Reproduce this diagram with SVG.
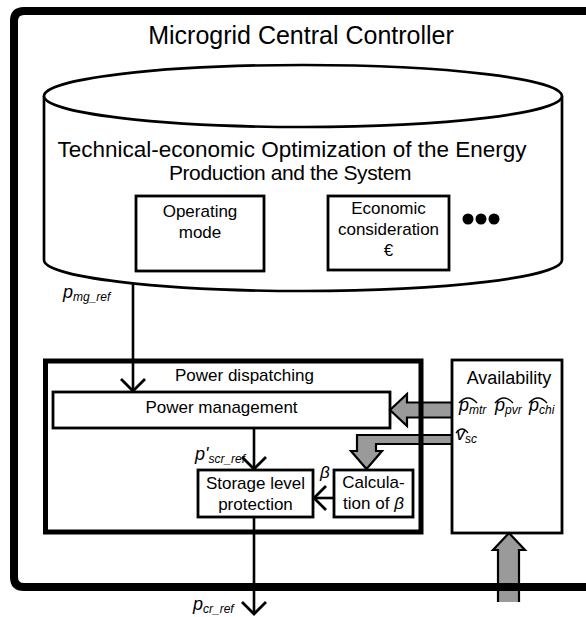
<svg xmlns="http://www.w3.org/2000/svg" width="586" height="617" viewBox="0 0 586 617">
<style>
.t{font-family:"Liberation Sans",Arial,sans-serif;fill:#000}
.i{font-style:italic}
.box{fill:#fff;stroke:#000;stroke-width:2.8}
.frame{fill:none;stroke:#000}
.ln{fill:none;stroke:#000;stroke-width:2.6}
.gf{fill:#9a9a9a;stroke:none}
.go{fill:none;stroke:#000;stroke-width:2.2;stroke-linejoin:miter}
.hat{fill:none;stroke:#000;stroke-width:1.3}
</style>
<defs>
<marker id="v" viewBox="0 0 15 28" refX="13" refY="14" markerWidth="15" markerHeight="28" orient="auto" markerUnits="userSpaceOnUse">
<path d="M1,2 L13,14 L1,26" fill="none" stroke="#000" stroke-width="2.8"/>
</marker>
</defs>
<rect width="586" height="617" fill="#fff"/>

<g id="optimization">
<path d="M44,96 V260 A259,31 0 0 0 562,260 V96" fill="#fff" stroke="#000" stroke-width="2.7"/>
<ellipse cx="303" cy="96" rx="259" ry="31" fill="#fff" stroke="#000" stroke-width="2.7"/>
<text class="t" font-size="22.5" text-anchor="middle" x="292" y="157">Technical-economic Optimization of the Energy</text>
<text class="t" font-size="21" letter-spacing="-0.4" text-anchor="middle" x="290" y="180">Production and the System</text>
<circle cx="468" cy="219" r="5.5"/>
<circle cx="481" cy="219" r="5.5"/>
<circle cx="494" cy="219" r="5.5"/>
</g>

<g id="operating-mode">
<rect class="box" x="136" y="196" width="128" height="75"/>
<text class="t" font-size="17" text-anchor="middle" x="200" y="217">Operating</text>
<text class="t" font-size="17" text-anchor="middle" x="200" y="238">mode</text>
</g>

<g id="economic-consideration">
<rect class="box" x="328" y="196" width="121" height="74"/>
<text class="t" font-size="17" text-anchor="middle" x="388.5" y="214">Economic</text>
<text class="t" font-size="17" text-anchor="middle" x="388.5" y="235">consideration</text>
<text class="t" font-size="17" text-anchor="middle" x="388.5" y="256">€</text>
</g>

<g id="power-management">
<rect class="box" x="53" y="392" width="337" height="36"/>
<text class="t" font-size="17" text-anchor="middle" x="221.5" y="413">Power management</text>
</g>

<g id="storage-level-protection">
<rect class="box" x="198" y="470" width="115" height="47"/>
<text class="t" font-size="17" text-anchor="middle" x="255.5" y="489">Storage level</text>
<text class="t" font-size="17" text-anchor="middle" x="255.5" y="510">protection</text>
</g>

<g id="calculation-beta">
<rect class="box" x="334" y="470" width="79" height="47"/>
<text class="t" font-size="17" text-anchor="middle" x="373.5" y="488">Calcula-</text>
<text class="t" font-size="17" text-anchor="middle" x="373.5" y="509">tion of <tspan class="i">β</tspan></text>
</g>

<g id="connectors">
<line class="ln" x1="133" y1="283" x2="133" y2="391" marker-end="url(#v)"/>
<text class="t i" font-size="18" x="63" y="298">p<tspan font-size="12" dy="3">mg_ref</tspan></text>
<line class="ln" x1="254" y1="428" x2="254" y2="469" marker-end="url(#v)"/>
<text class="t i" font-size="18" x="195" y="460">p'<tspan font-size="12" dy="3">scr_ref</tspan></text>
<line class="ln" x1="334" y1="498" x2="314" y2="498" marker-end="url(#v)"/>
<text class="t i" font-size="17" x="320" y="478">β</text>
<line class="ln" x1="254" y1="517" x2="254" y2="614" marker-end="url(#v)"/>
<text class="t i" font-size="18" x="193" y="610">p<tspan font-size="12" dy="3">cr_ref</tspan></text>

<polygon class="gf" points="452,402.5 407,402.5 407,394 390,410 407,426 407,417.5 452,417.5"/>
<polyline class="go" points="452,402.5 407,402.5 407,394 390,410 407,426 407,417.5 452,417.5"/>
<polygon class="gf" points="452,435 357,435 357,451 351,451 366.5,469 382,451 376,451 376,444 452,444"/>
<polyline class="go" points="452,435 357,435 357,451 351,451 366.5,469 382,451 376,451 376,444 452,444"/>
<polygon class="gf" points="498,602 498,550 493,550 509,533 525,550 519,550 519,602"/>
<polyline class="go" points="498,602 498,550 493,550 509,533 525,550 519,550 519,602"/>
</g>

<g id="power-dispatching">
<rect x="45.5" y="361" width="375.5" height="171" fill="none" stroke="#000" stroke-width="5"/>
<text class="t" font-size="17" x="175" y="381">Power dispatching</text>
</g>

<g id="availability">
<rect x="452" y="360" width="110" height="173" fill="none" stroke="#000" stroke-width="2.8"/>
<text class="t" font-size="18" text-anchor="middle" x="509" y="384">Availability</text>
<text class="t i" font-size="18" x="459" y="411">p<tspan font-size="12" dy="3">mtr</tspan></text>
<text class="t i" font-size="18" x="495" y="411">p<tspan font-size="12" dy="3">pvr</tspan></text>
<text class="t i" font-size="18" x="529" y="411">p<tspan font-size="12" dy="3">chi</tspan></text>
<text class="t i" font-size="18" x="456" y="440">v<tspan font-size="12" dy="3">sc</tspan></text>
<path class="hat" d="M459,403 Q468,393 477,403"/>
<path class="hat" d="M495,403 Q504,393 513,403"/>
<path class="hat" d="M529,403 Q538,393 547,403"/>
<path class="hat" d="M456,433 Q462,425 468,433"/>
</g>

<g id="microgrid-central-controller">
<path class="frame" stroke-width="8" d="M586,11 H24 Q14,11 14,21 V577 Q14,587 24,587 H586"/>
<text class="t" font-size="25" text-anchor="middle" x="301" y="44">Microgrid Central Controller</text>
</g>
</svg>
